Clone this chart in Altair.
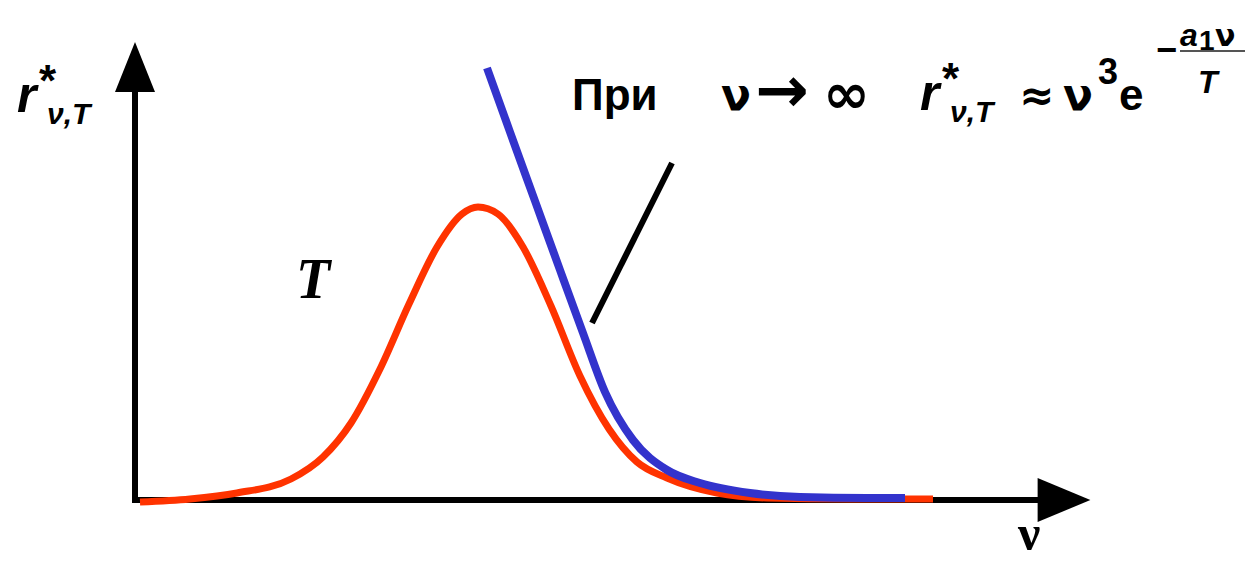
import altair as alt
import pandas as pd

# Planck spectral density r*(nu, T) at a fixed temperature T
planck_nu = [0.05, 0.55, 1.02, 1.56, 1.88, 2.16, 2.45, 2.74, 3.02, 3.27, 3.43,
             3.63, 3.88, 4.16, 4.45, 4.74, 5.02, 5.32, 5.82, 6.32, 7.15, 7.98]
planck_r = [-0.04, 0.02, 0.14, 0.42, 0.86, 1.54, 2.62, 3.92, 5.06, 5.72, 5.86,
            5.72, 5.06, 3.88, 2.48, 1.42, 0.76, 0.44, 0.14, 0.04, 0.02, 0.02]

# Wien branch nu^3 * exp(-a1 nu / T), valid for large nu
wien_nu = [3.52, 3.75, 4.00, 4.25, 4.48, 4.70, 4.98, 5.32, 5.65, 6.15, 6.65, 7.32, 7.70]
wien_r = [8.64, 7.36, 5.98, 4.60, 3.34, 2.16, 1.20, 0.60, 0.34, 0.14, 0.06, 0.04, 0.04]

# leader line from the formula down to the Wien branch
pointer_nu = [4.57, 5.37]
pointer_r = [3.54, 6.74]

# coordinate axes (segments) and their arrow heads
axis_nu = [0.0, -0.03]
axis_nu2 = [0.0, 9.10]
axis_r = [-0.06, 0.0]
axis_r2 = [8.20, 0.0]
head_nu = [0.0, 9.29]
head_r = [8.66, 0.0]
head_shape = ["M0,-1.25L1,1.25L-1,1.25Z", "M1.2,0L-1.2,1L-1.2,-1Z"]
head_size = [1600, 1936]

# text pieces
y_label = ["r", "*", "ν,T"]
curve_label = "T"
x_label = "ν"
formula = ["При", "ν", "→", "∞", "r", "*", "ν,T", "≈", "ν", "3", "e", "−", "a", "1", "ν", "T"]

X = alt.Scale(domain=[0, 9.55], range=[135, 1090])
Y = alt.Scale(domain=[0, 9.16], range=[500, 42])

SANS = "Liberation Sans"
DEJAVU = "DejaVu Sans"
SERIF = "Liberation Serif"


def curve(nu, r, color, width):
    df = pd.DataFrame({"nu": nu, "r": r})
    return alt.Chart(df).mark_line(
        color=color, strokeWidth=width, interpolate="monotone", strokeCap="butt"
    ).encode(
        x=alt.X("nu:Q", scale=X, axis=None),
        y=alt.Y("r:Q", scale=Y, axis=None),
        order="nu:Q",
    )


def label(text, x, y, size, font=SANS, weight="bold", style="normal"):
    return alt.Chart(pd.DataFrame({"t": [text]})).mark_text(
        align="left", baseline="alphabetic", fontSize=size, font=font,
        fontWeight=weight, fontStyle=style, color="black"
    ).encode(x=alt.value(x), y=alt.value(y), text="t:N")


axes = alt.Chart(pd.DataFrame({"nu": axis_nu, "nu2": axis_nu2, "r": axis_r, "r2": axis_r2})).mark_rule(
    color="black", strokeWidth=6, strokeCap="butt"
).encode(
    x=alt.X("nu:Q", scale=X, axis=None), x2="nu2:Q",
    y=alt.Y("r:Q", scale=Y, axis=None), y2="r2:Q",
)

heads = alt.Chart(pd.DataFrame({"nu": head_nu, "r": head_r, "shape": head_shape, "size": head_size})).mark_point(
    filled=True, color="black", opacity=1, strokeWidth=0
).encode(
    x=alt.X("nu:Q", scale=X, axis=None),
    y=alt.Y("r:Q", scale=Y, axis=None),
    shape=alt.Shape("shape:N", scale=None, legend=None),
    size=alt.Size("size:Q", scale=None, legend=None),
)

pointer = alt.Chart(pd.DataFrame({"nu": [pointer_nu[0]], "nu2": [pointer_nu[1]],
                                  "r": [pointer_r[0]], "r2": [pointer_r[1]]})).mark_rule(
    color="black", strokeWidth=6, strokeCap="butt"
).encode(
    x=alt.X("nu:Q", scale=X, axis=None), x2="nu2:Q",
    y=alt.Y("r:Q", scale=Y, axis=None), y2="r2:Q",
)

frac_bar = alt.Chart(pd.DataFrame({"a": [0]})).mark_rule(color="#555555", strokeWidth=2).encode(
    x=alt.value(1180), x2=alt.value(1245), y=alt.value(51)
)

texts = [
    # vertical-axis label r*_{nu,T}
    label(y_label[0], 17, 112, 50, style="italic"),
    label(y_label[1], 39, 96, 44),
    label(y_label[2], 47, 124, 30, style="italic"),
    # curve label and frequency axis label
    label(curve_label, 296, 298, 56, font=SERIF, style="italic"),
    label(x_label, 1018, 550, 50, font=SERIF),
    # asymptotic formula
    label(formula[0], 572, 110, 44),
    label(formula[1], 721, 110, 44, font=DEJAVU),
    label(formula[2], 755, 112, 64, font=DEJAVU),
    label(formula[3], 823, 113, 56, font=DEJAVU),
    label(formula[4], 920, 110, 50, style="italic"),
    label(formula[5], 942, 94, 44),
    label(formula[6], 950, 122, 30, style="italic"),
    label(formula[7], 1019, 110, 42, font=DEJAVU),
    label(formula[8], 1063, 110, 44, font=DEJAVU),
    label(formula[9], 1098, 84, 36),
    label(formula[10], 1119, 110, 44),
    label(formula[11], 1156, 62, 36),
    label(formula[12], 1180, 46, 32, style="italic"),
    label(formula[13], 1199, 50, 28),
    label(formula[14], 1215, 46, 30, font=DEJAVU),
    label(formula[15], 1198, 93, 32, style="italic"),
]

chart = alt.layer(
    axes,
    heads,
    curve(planck_nu, planck_r, "#FF3300", 7),
    curve(wien_nu, wien_r, "#3333CC", 8),
    pointer,
    frac_bar,
    *texts,
).properties(
    width=1253, height=561, autosize="none", padding=0, background="white"
).configure_view(stroke=None)

chart.save("out.html", embed_options={"renderer": "svg", "actions": False})
